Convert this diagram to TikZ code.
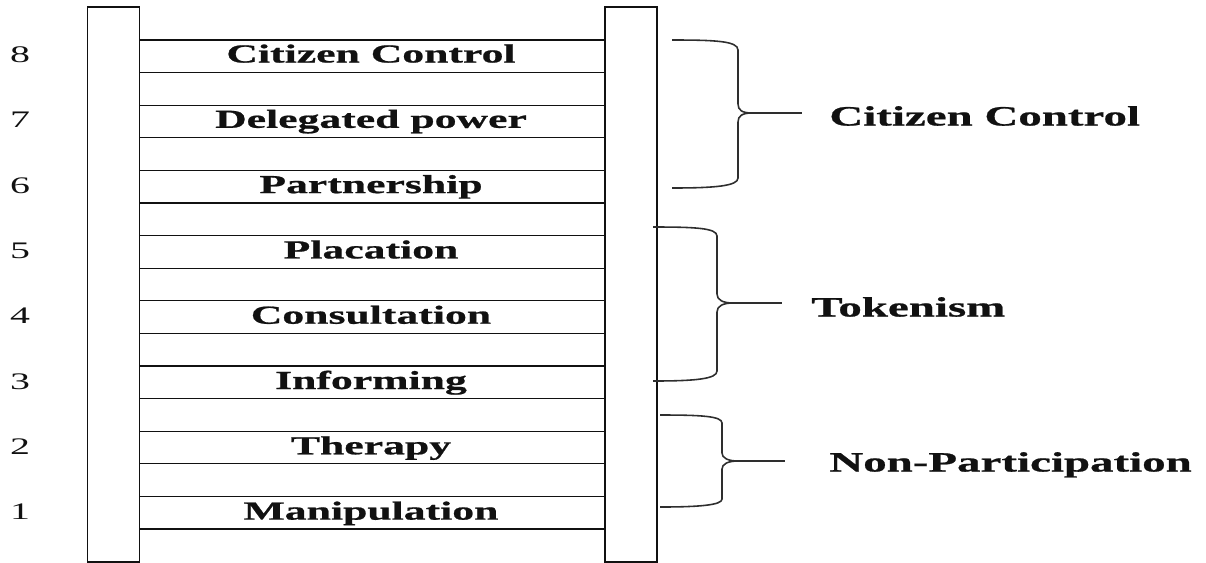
\documentclass[tikz,border=0pt]{standalone}
\usepackage{fontspec}
\setmainfont{Liberation Serif}[FakeStretch=1.68,BoldFeatures={FakeBold=0.8}]
\usetikzlibrary{positioning}
\definecolor{Ink}{HTML}{111111}
\definecolor{BraceGray}{HTML}{2E2E2E}

\begin{document}
\begin{tikzpicture}[x=0.02cm,y=-0.02cm,
    rail/.style={draw=Ink,line width=1.1pt,minimum width=1.04cm,minimum height=11.1cm,
      inner sep=0pt},
    rung/.style={draw=Ink,line width=0.7pt},
    lbl/.style={font=\fontsize{14.8}{16}\selectfont\bfseries,text=Ink,inner sep=0pt,
      anchor=base},
    num/.style={font=\fontsize{13.5}{15}\selectfont,text=Ink,inner sep=0pt,anchor=base},
    grp/.style={font=\fontsize{15.9}{18}\selectfont\bfseries,text=Ink,inner sep=0pt,
      anchor=base west},
    brc/.style={draw=BraceGray,line width=0.9pt}]
  \useasboundingbox (0,0) rectangle (1206,562);
  % ladder
  \node[rail] (lrail) at (113.5,284.5) {};
  \node[rail] (rrail) at (631,284.5) {};
  \foreach \i [evaluate=\i as \yy using 40+32.6*\i] in {0,...,15}
    \draw[rung] (lrail.east |- 0,\yy) -- (rrail.west |- 0,\yy);
  \foreach \k/\txt [count=\j from 0] in {8/Citizen Control,7/Delegated power,
      6/Partnership,5/Placation,4/Consultation,3/Informing,2/Therapy,1/Manipulation}{
    \pgfmathsetmacro\yy{62.5+65.3*\j}
    \node[lbl] (rungtxt\k) at (371,\yy) {\txt};
    \node[num] (num\k) at (20,\yy) {\k};
  }
  % citizen control
  \coordinate (cTop) at (672,40);
  \coordinate (cBot) at (672,188);
  \coordinate (cTip) at (752,113);
  \coordinate (cEnd) at (802,113);
  \draw[brc] (cTop) .. controls (715,40) and (738,41) .. (738,50) -- (738,104)
    .. controls (738,110) and (742,113) .. (cTip)
    .. controls (742,113) and (738,116) .. (738,122) -- (738,178)
    .. controls (738,186) and (715,188) .. (cBot);
  \draw[brc] (cTip) -- (cEnd);
  \node[grp] (gCtrl) at (829,125.5) {Citizen Control};
  % tokenism
  \coordinate (tTop) at (653,227);
  \coordinate (tBot) at (653,381);
  \coordinate (tTip) at (733,303);
  \coordinate (tEnd) at (782,303);
  \draw[brc] (tTop) .. controls (695,227) and (717,228) .. (717,236) -- (717,294)
    .. controls (717,300) and (723,303) .. (tTip)
    .. controls (723,303) and (717,306) .. (717,312) -- (717,371)
    .. controls (717,379) and (695,381) .. (tBot);
  \draw[brc] (tTip) -- (tEnd);
  \node[grp] (gToken) at (811,316.5) {Tokenism};
  % non-participation
  \coordinate (pTop) at (660,415);
  \coordinate (pBot) at (660,507);
  \coordinate (pTip) at (738,461);
  \coordinate (pEnd) at (785,461);
  \draw[brc] (pTop) .. controls (700,415) and (722,416) .. (722,423) -- (722,453)
    .. controls (722,458) and (728,461) .. (pTip)
    .. controls (728,461) and (722,464) .. (722,469) -- (722,499)
    .. controls (722,505) and (700,507) .. (pBot);
  \draw[brc] (pTip) -- (pEnd);
  \node[grp] (gNonPart) at (829,471.5) {Non-Participation};
\end{tikzpicture}
\end{document}
